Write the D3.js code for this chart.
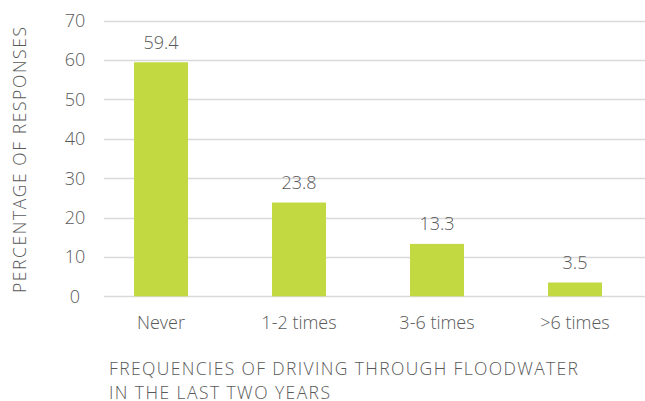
<!DOCTYPE html>
<html>
<head>
<meta charset="utf-8">
<script src="https://cdn.jsdelivr.net/npm/d3@7"></script>
<style>
  html, body { margin: 0; padding: 0; background: #ffffff; }
  svg { display: block; }
  text { font-family: "Open Sans", "Noto Sans", sans-serif; font-weight: 300; fill: #595959; }
</style>
</head>
<body>
<svg id="chart" width="645" height="401"></svg>
<script>
// Survey results: how often respondents drove through floodwater
const categories = ["Never", "1-2 times", "3-6 times", ">6 times"];
const percentages = [59.4, 23.8, 13.3, 3.5];
const yTicks = [0, 10, 20, 30, 40, 50, 60, 70];
const yTitle = "PERCENTAGE OF RESPONSES";
const xTitleLines = ["FREQUENCIES OF DRIVING THROUGH FLOODWATER", "IN THE LAST TWO YEARS"];

const svg = d3.select("#chart");
const barColor = "#c3d942";
const gridColor = "#d9d9d9";

const x = d3.scaleBand()
  .domain(categories)
  .range([92, 644])
  .paddingInner(0.609)
  .paddingOuter(0.3045);

const y = d3.scaleLinear()
  .domain([0, 70])
  .range([296.3, 20.5]);

// horizontal gridlines
svg.append("g")
  .selectAll("line")
  .data(yTicks)
  .join("line")
  .attr("x1", 104)
  .attr("x2", 645)
  .attr("y1", d => Math.round(y(d)) + 0.5)
  .attr("y2", d => Math.round(y(d)) + 0.5)
  .attr("stroke", gridColor)
  .attr("stroke-width", 1.6);

// y tick labels
svg.append("g")
  .selectAll("text")
  .data(yTicks)
  .join("text")
  .attr("x", 75)
  .attr("y", d => y(d))
  .attr("dy", "0.36em")
  .attr("text-anchor", "middle")
  .attr("font-size", 18)
  .text(d => d);

// bars
svg.append("g")
  .selectAll("rect")
  .data(percentages)
  .join("rect")
  .attr("x", (d, i) => x(categories[i]))
  .attr("width", x.bandwidth())
  .attr("y", d => y(d))
  .attr("height", d => y(0) - y(d))
  .attr("fill", barColor);

// value labels above the bars
svg.append("g")
  .selectAll("text")
  .data(percentages)
  .join("text")
  .attr("x", (d, i) => x(categories[i]) + x.bandwidth() / 2)
  .attr("y", d => y(d) - 13.5)
  .attr("text-anchor", "middle")
  .attr("font-size", 18)
  .text(d => d.toFixed(1));

// category labels
svg.append("g")
  .selectAll("text")
  .data(categories)
  .join("text")
  .attr("x", d => x(d) + x.bandwidth() / 2)
  .attr("y", 329)
  .attr("text-anchor", "middle")
  .attr("font-size", 18)
  .text(d => d);

// y axis title
svg.append("text")
  .attr("transform", "translate(26,160) rotate(-90)")
  .attr("text-anchor", "middle")
  .attr("font-size", 17.5)
  .attr("textLength", 266)
  .attr("lengthAdjust", "spacing")
  .text(yTitle);

// x axis title, two lines
const xTitleWidths = [469, 221];
svg.append("g")
  .selectAll("text")
  .data(xTitleLines)
  .join("text")
  .attr("x", 109)
  .attr("y", (d, i) => 375 + i * 24)
  .attr("font-size", 17.5)
  .attr("textLength", (d, i) => xTitleWidths[i])
  .attr("lengthAdjust", "spacing")
  .text(d => d);
</script>
</body>
</html>
